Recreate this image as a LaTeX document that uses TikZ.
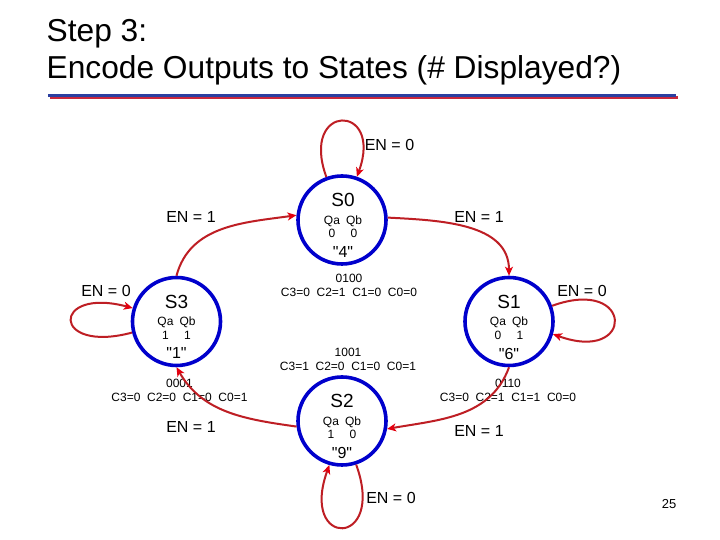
\documentclass[tikz,border=0pt]{standalone}
\usepackage{fontspec}
\setmainfont{Liberation Sans}[Ligatures=TeXOff]
\usepackage{xcolor}
\usepackage{tikz}
\usetikzlibrary{arrows.meta,positioning}
\definecolor{stblue}{HTML}{0000CC}
\definecolor{edgered}{HTML}{BE1E24}
\definecolor{tipred}{HTML}{E3000F}
\definecolor{rulered}{HTML}{C8283C}
\definecolor{ruleblue}{HTML}{2B3FA0}
\newcommand{\qab}[2]{\begin{tabular}{@{}c@{\hspace{6pt}}c@{}}Qa&Qb\\[-1pt]#1&#2\end{tabular}}

\begin{document}
\begin{tikzpicture}[x=1pt,y=1pt,>={Stealth[length=9pt,width=8pt,inset=2.5pt,color=tipred]},font=\fontsize{16}{19}\selectfont]

\tikzset{
state/.style={
    circle,
    draw=stblue,
    line width=3.6pt,
    minimum size=88pt,
    inner sep=0pt
},
sname/.style={font=\fontsize{19}{22}\selectfont, inner sep=0pt},
sbits/.style={font=\fontsize{12}{14.4}\selectfont, inner sep=0pt},
snum/.style={font=\fontsize{16}{19}\selectfont, inner sep=0pt},
enc/.style={font=\fontsize{12}{14.5}\selectfont, align=center, inner sep=0pt},
cond/.style={font=\fontsize{16}{19}\selectfont, inner sep=0pt},
arr/.style={->,line width=2pt,color=edgered}
}

\fill[white] (0,0) rectangle (720,540);
\useasboundingbox (0,0) rectangle (720,540);

% title
\node[anchor=base west, inner sep=0pt, font=\fontsize{31.7}{36}\selectfont] (step) at (46.5,498.3) {Step 3:};
\node[anchor=base west, inner sep=0pt, font=\fontsize{31.7}{36}\selectfont] (title) at (46.5,461.7) {Encode Outputs to States (\# Displayed?)};
\coordinate (rulel) at (48,444.5);
\coordinate (ruler) at (676,444.5);
\draw[rulered, line width=2.5pt] ([shift={(2,-2)}]rulel) -- ([shift={(2,-2)}]ruler);
\draw[ruleblue, line width=3pt] (rulel) -- (ruler);

% states
\node[state] (s0) at (342,320) {};
\node[state] (s3) at (176.5,218.5) {};
\node[state] (s1) at (509,218.5) {};
\node[state] (s2) at (342,119) {};

\node[sname] (s0name) at ([xshift=1pt,yshift=20pt]s0.center) {S0};
\node[sbits] (s0bits) at ([xshift=1pt,yshift=-8pt]s0.center) {\qab{0}{0}};
\node[snum] (s0num) at ([xshift=1pt,yshift=-32pt]s0.center) {"4"};

\node[sname] (s3name) at ([yshift=20pt]s3.center) {S3};
\node[sbits] (s3bits) at ([yshift=-8pt]s3.center) {\qab{1}{1}};
\node[snum] (s3num) at ([yshift=-32pt]s3.center) {"1"};

\node[sname] (s1name) at ([yshift=20pt]s1.center) {S1};
\node[sbits] (s1bits) at ([yshift=-8pt]s1.center) {\qab{0}{1}};
\node[snum] (s1num) at ([yshift=-32pt]s1.center) {"6"};

\node[sname] (s2name) at ([yshift=20pt]s2.center) {S2};
\node[sbits] (s2bits) at ([yshift=-8pt]s2.center) {\qab{1}{0}};
\node[snum] (s2num) at ([yshift=-32pt]s2.center) {"9"};

% conditions
\node[cond] (en0top) at (389.5,395) {EN = 0};
\node[cond] (en1l) at (191,322.5) {EN = 1};
\node[cond] (en1r) at (479,322.5) {EN = 1};
\node[cond] (en0l) at (106,249) {EN = 0};
\node[cond] (en0r) at (582,249.5) {EN = 0};
\node[cond] (en1ll) at (191,112.5) {EN = 1};
\node[cond] (en1lr) at (479,109) {EN = 1};
\node[cond] (en0bot) at (391,42.5) {EN = 0};

% encodings
\node[enc] (c0) at (349,254.7) {0100\\C3=0~~C2=1~~C1=0~~C0=0};
\node[enc] (c2) at (348,180.75) {1001\\C3=1~~C2=0~~C1=0~~C0=1};
\node[enc] (c3) at (179.5,149.75) {0001\\C3=0~~C2=0~~C1=0~~C0=1};
\node[enc] (c1) at (508,149.75) {0110\\C3=0~~C2=1~~C1=1~~C0=0};

\node[font=\fontsize{13}{15}\selectfont, inner sep=0pt] (page) at (669,36) {25};

% transitions
\draw[arr] (s3.north) to[out=75,in=188] (s0.174);
\draw[arr] (s0.3) to[out=-3,in=90] (s1.north);
\draw[arr] (s1.south) to[out=-110,in=10] (s2.-10);
\draw[arr] (s2.187) to[out=172,in=-60] (s3.south);

\draw[arr] (s0.110) to[out=110,in=70,looseness=6.6] (s0.71);
\draw[arr] (s3.194) to[out=195,in=165,looseness=8.8] (s3.163);
\draw[arr] (s1.20) to[out=20,in=-20,looseness=7.9] (s1.-16);
\draw[arr] (s2.-72) to[out=-70,in=-110,looseness=8.5] (s2.-106);

\end{tikzpicture}
\end{document}
